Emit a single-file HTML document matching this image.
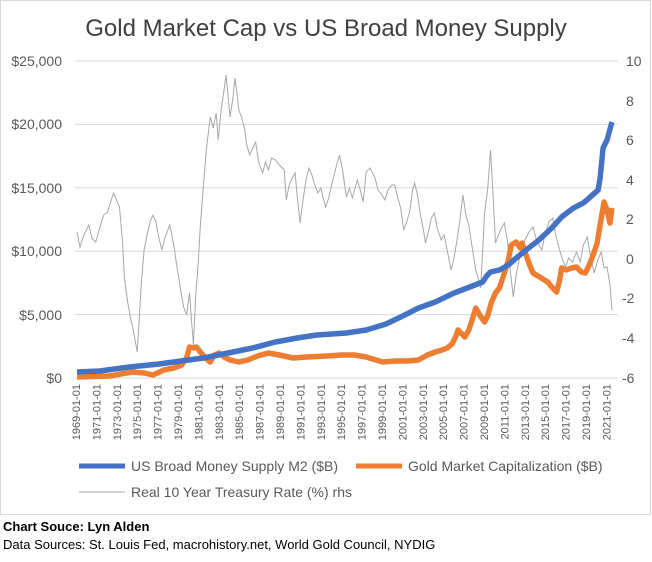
<!DOCTYPE html>
<html><head><style>
body{margin:0;background:#fff;}
svg text{font-family:"Liberation Sans",Arial,sans-serif;}
</style></head><body>
<svg width="652" height="557" xmlns="http://www.w3.org/2000/svg">
<rect x="0.5" y="0.5" width="650" height="514" fill="#fff" stroke="#d9d9d9"/>
<text x="326" y="36" text-anchor="middle" font-size="24" fill="#404040">Gold Market Cap vs US Broad Money Supply</text>
<g stroke="#d9d9d9" stroke-width="1">
<line x1="75" x2="618" y1="61" y2="61"/><line x1="75" x2="618" y1="124.4" y2="124.4"/>
<line x1="75" x2="618" y1="187.8" y2="187.8"/><line x1="75" x2="618" y1="251.2" y2="251.2"/>
<line x1="75" x2="618" y1="314.6" y2="314.6"/><line x1="75" x2="618" y1="378" y2="378"/>
</g>
<g font-size="14" fill="#595959" text-anchor="end">
<text x="62" y="66">$25,000</text><text x="62" y="129">$20,000</text><text x="62" y="193">$15,000</text>
<text x="62" y="256">$10,000</text><text x="62" y="320">$5,000</text><text x="62" y="383">$0</text>
</g>
<g font-size="14" fill="#595959" text-anchor="start">
<text x="626" y="66">10</text><text x="626" y="106">8</text><text x="626" y="145">6</text>
<text x="626" y="185">4</text><text x="626" y="224">2</text><text x="626" y="264">0</text>
<text x="622" y="303">-2</text><text x="622" y="343">-4</text><text x="622" y="383">-6</text>
</g>
<g font-size="11" fill="#595959" text-anchor="end">
<text transform="translate(80,384) rotate(-90)">1969-01-01</text>
<text transform="translate(100.4,384) rotate(-90)">1971-01-01</text>
<text transform="translate(120.8,384) rotate(-90)">1973-01-01</text>
<text transform="translate(141.2,384) rotate(-90)">1975-01-01</text>
<text transform="translate(161.6,384) rotate(-90)">1977-01-01</text>
<text transform="translate(182,384) rotate(-90)">1979-01-01</text>
<text transform="translate(202.4,384) rotate(-90)">1981-01-01</text>
<text transform="translate(222.8,384) rotate(-90)">1983-01-01</text>
<text transform="translate(243.2,384) rotate(-90)">1985-01-01</text>
<text transform="translate(263.6,384) rotate(-90)">1987-01-01</text>
<text transform="translate(284,384) rotate(-90)">1989-01-01</text>
<text transform="translate(304.4,384) rotate(-90)">1991-01-01</text>
<text transform="translate(324.8,384) rotate(-90)">1993-01-01</text>
<text transform="translate(345.2,384) rotate(-90)">1995-01-01</text>
<text transform="translate(365.6,384) rotate(-90)">1997-01-01</text>
<text transform="translate(386,384) rotate(-90)">1999-01-01</text>
<text transform="translate(406.4,384) rotate(-90)">2001-01-01</text>
<text transform="translate(426.8,384) rotate(-90)">2003-01-01</text>
<text transform="translate(447.2,384) rotate(-90)">2005-01-01</text>
<text transform="translate(467.6,384) rotate(-90)">2007-01-01</text>
<text transform="translate(488,384) rotate(-90)">2009-01-01</text>
<text transform="translate(508.4,384) rotate(-90)">2011-01-01</text>
<text transform="translate(528.8,384) rotate(-90)">2013-01-01</text>
<text transform="translate(549.2,384) rotate(-90)">2015-01-01</text>
<text transform="translate(569.6,384) rotate(-90)">2017-01-01</text>
<text transform="translate(590,384) rotate(-90)">2019-01-01</text>
<text transform="translate(610.4,384) rotate(-90)">2021-01-01</text>
</g>
<g transform="translate(77,0) scale(0.987,1) translate(-77,0)">
<polyline fill="none" stroke="#a6a6a6" stroke-width="1" points="77,232 80,247 84,235 89,225 92,238 96,242 100,228 104,215 108,212 114,193 117,200 120,207 123,240 125,277 128,300 131,317 134,330 138,352 140,320 142,285 145,250 148,235 151,222 154,215 157,222 160,238 163,250 166,238 171,225 175,245 178,265 182,290 185,307 188,315 191,293 193,320 195,345 197,300 200,260 202,225 205,187 208,150 212,117 215,128 218,113 220,140 223,110 226,90 228,75 230,95 232,117 235,98 237,78 239,92 241,110 244,118 247,130 249,145 252,155 255,148 258,142 261,162 265,173 268,162 271,170 274,158 278,160 282,165 287,170 289,200 292,185 295,178 298,173 300,195 303,223 306,200 309,180 312,168 315,175 318,185 321,193 324,188 327,200 329,207 332,198 335,185 340,165 343,155 346,170 350,197 353,188 356,198 361,180 364,190 367,202 370,172 374,168 379,178 382,190 386,195 389,200 392,190 396,185 399,185 402,198 405,208 408,230 411,222 414,212 417,190 419,183 422,195 425,215 428,230 430,243 433,232 436,218 439,213 442,228 446,240 449,235 452,250 456,270 459,258 462,240 465,220 468,195 471,215 474,225 477,245 481,270 484,280 486,288 488,250 490,212 493,190 496,150 498,185 501,243 504,235 507,228 510,223 513,240 516,270 519,297 522,275 525,260 528,247 531,240 535,232 539,227 542,238 545,245 548,250 551,235 555,222 559,218 562,235 566,250 569,260 572,267 575,258 579,262 583,252 587,262 590,245 594,237 597,255 601,273 604,262 608,252 611,268 614,267 617,285 619,310"/>
<polyline fill="none" stroke="#ed7d31" stroke-width="5.5" stroke-linejoin="round" points="77,377 110,376 133,372 145,373 154,375 165,370 175,368 183,365 188,358 191,347 195,348 198,347 202,352 207,358 212,362 216,355 221,353 226,357 232,360 241,362 250,360 260,356 271,353 282,355 296,358 310,357 330,356 345,355 358,355 370,357 380,360 387,362 400,361 412,361 423,360 432,355 440,352 447,350 452,348 457,344 461,336 463,330 467,334 470,337 474,330 478,318 481,308 485,315 490,322 493,316 497,302 501,293 505,288 510,273 514,260 517,245 522,242 526,248 528,243 532,255 536,266 539,273 544,276 549,279 554,282 558,287 563,292 566,280 568,268 573,270 578,268 583,267 588,272 592,273 596,265 600,255 604,243 607,225 611,202 614,210 617,223 619,208"/>
<polyline fill="none" stroke="#4472c4" stroke-width="5.5" stroke-linejoin="round" points="77,372 100,371 130,367 160,364 190,360 205,358 230,353 255,348 278,342 300,338 320,335 350,333 370,330 390,324 405,317 415,312 423,308 440,302 459,293 475,287 488,282 492,276 496,272 505,270 514,265 522,258 532,250 545,240 558,228 568,217 580,208 590,203 597,197 605,190 607,178 610,148 614,140 619,122"/>
</g>
<line x1="79" x2="125" y1="466" y2="466" stroke="#4472c4" stroke-width="5"/>
<text x="131" y="471" font-size="14" fill="#595959">US Broad Money Supply M2 ($B)</text>
<line x1="356" x2="402" y1="466" y2="466" stroke="#ed7d31" stroke-width="5"/>
<text x="408" y="471" font-size="14" fill="#595959">Gold Market Capitalization ($B)</text>
<line x1="79" x2="125" y1="492" y2="492" stroke="#a6a6a6" stroke-width="1"/>
<text x="131" y="497" font-size="14" fill="#595959">Real 10 Year Treasury Rate (%) rhs</text>
<text x="3" y="531" font-size="13" font-weight="bold" fill="#000">Chart Souce: Lyn Alden</text>
<text x="3" y="549" font-size="13" fill="#000">Data Sources: St. Louis Fed, macrohistory.net, World Gold Council, NYDIG</text>
</svg>
</body></html>
